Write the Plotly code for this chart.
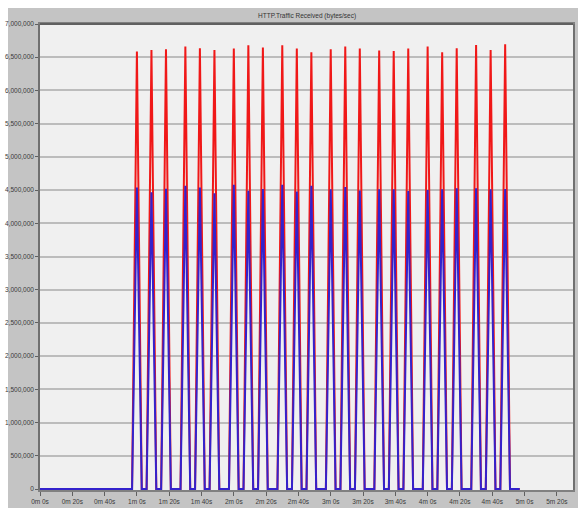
import plotly.graph_objects as go

# ---- data ----
sample_step_s = 3
end_time_s = 297
spike_times_s = [60, 69, 78, 90, 99, 108, 120, 129, 138, 150, 159, 168,
                 180, 189, 198, 210, 219, 228, 240, 249, 258, 270, 279, 288]
red_peaks = [6585000, 6610000, 6620000, 6660000, 6635000, 6610000,
             6630000, 6680000, 6645000, 6680000, 6630000, 6575000,
             6620000, 6660000, 6630000, 6600000, 6595000, 6630000,
             6660000, 6575000, 6635000, 6685000, 6610000, 6695000]
blue_peaks = [4537000, 4468000, 4521000, 4563000, 4537000, 4453000,
              4579000, 4489000, 4516000, 4579000, 4479000, 4563000,
              4511000, 4547000, 4495000, 4511000, 4511000, 4484000,
              4500000, 4511000, 4526000, 4526000, 4511000, 4516000]
x_tick_vals = [0, 20, 40, 60, 80, 100, 120, 140, 160, 180, 200, 220, 240, 260, 280, 300, 320]
x_tick_text = ["0m 0s", "0m 20s", "0m 40s", "1m 0s", "1m 20s", "1m 40s", "2m 0s",
               "2m 20s", "2m 40s", "3m 0s", "3m 20s", "3m 40s", "4m 0s", "4m 20s",
               "4m 40s", "5m 0s", "5m 20s"]
y_tick_vals = list(range(0, 7000001, 500000))
title_text = "HTTP.Traffic Received (bytes/sec)"

# build sampled series (baseline is zero between spikes)
times = list(range(0, end_time_s + 1, sample_step_s))
red_map = dict(zip(spike_times_s, red_peaks))
blue_map = dict(zip(spike_times_s, blue_peaks))
red_vals = [red_map.get(t, 0) for t in times]
blue_vals = [blue_map.get(t, 0) for t in times]

FONT = "Liberation Sans, Arial, sans-serif"
W, H = 578, 513
ML, MR, MT, MB = 40, 5, 24, 23
pw, ph = W - ML - MR, H - MT - MB

def px_to_paper_x(px):
    return (px - ML) / pw

def px_to_paper_y(py):
    return (H - MB - py) / ph

fig = go.Figure()
fig.add_trace(go.Scatter(x=times, y=red_vals, mode="lines",
                         line=dict(color="#f01818", width=2), showlegend=False))
fig.add_trace(go.Scatter(x=times, y=blue_vals, mode="lines",
                         line=dict(color="#3322cc", width=2), showlegend=False))

fig.update_layout(
    width=W, height=H,
    margin=dict(l=ML, r=MR, t=MT, b=MB, pad=0),
    paper_bgcolor="#ffffff",
    plot_bgcolor="#f0f0f0",
    font=dict(family=FONT, size=6.5, color="#3a3a3a"),
    showlegend=False,
    annotations=[dict(text=title_text, xref="paper", yref="paper", x=0.5, y=1,
                      yshift=8, showarrow=False, xanchor="center", yanchor="middle",
                      font=dict(family=FONT, size=6.5, color="#333333"))],
    shapes=[
        # grey panel behind the chart
        dict(type="rect", xref="paper", yref="paper", layer="below",
             x0=px_to_paper_x(8), x1=px_to_paper_x(578),
             y0=px_to_paper_y(508), y1=px_to_paper_y(8),
             fillcolor="#c4c4c4", line=dict(width=0)),
        # plot area background
        dict(type="rect", xref="paper", yref="paper", layer="below",
             x0=0, x1=1, y0=0, y1=1, fillcolor="#f0f0f0", line=dict(width=0)),
        # darker top border
        dict(type="line", xref="paper", yref="paper", x0=0, x1=1, y0=1, y1=1,
             line=dict(color="#606060", width=2)),
    ],
)
fig.update_xaxes(range=[0, 330], tickvals=x_tick_vals, ticktext=x_tick_text,
                 showgrid=False, zeroline=False, showline=True, linecolor="#808080",
                 linewidth=1.5, mirror=True, ticks="outside", ticklen=4, tickcolor="#606060",
                 automargin=False)
fig.update_yaxes(range=[-15000, 7000000], tickvals=y_tick_vals, tickformat=",d",
                 showgrid=True, gridcolor="#bcbcbc", gridwidth=1.5, zeroline=False,
                 showline=True, linecolor="#707070", linewidth=1.5, mirror=True,
                 ticks="outside", ticklen=3, tickcolor="#606060",
                 automargin=False)

fig.write_html("out.html", config={"displayModeBar": False},
               post_script="document.body.style.margin='0';")
